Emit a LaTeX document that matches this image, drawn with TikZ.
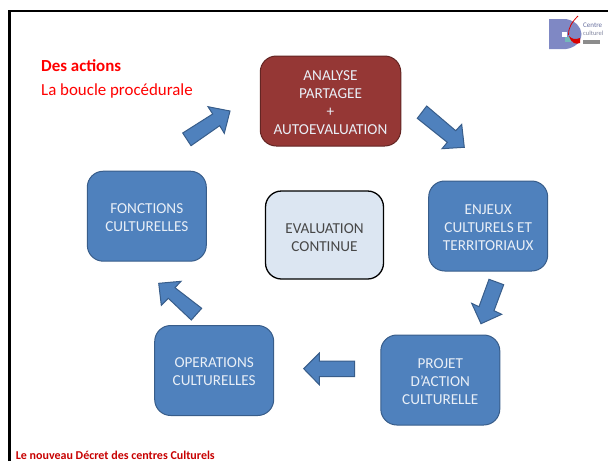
\documentclass[tikz,border=0pt]{standalone}
\usepackage{fontspec}
\setmainfont{Carlito}
\definecolor{bluefill}{HTML}{4F81BD}
\definecolor{bluedraw}{HTML}{385D8A}
\definecolor{redfill}{HTML}{953735}
\definecolor{reddraw}{HTML}{632523}
\definecolor{palefill}{HTML}{DCE6F2}
\definecolor{paletext}{HTML}{E9EFF7}
\definecolor{logoblue}{HTML}{7F88C4}
\newcommand{\toppad}{\rule{0pt}{13pt}}
\newcommand{\evalpad}{\rule{0pt}{15pt}}
\tikzset{
  x=1pt,y=-1pt,
  boxbase/.style={rectangle,rounded corners=16pt,minimum width=119pt,minimum height=90pt,
    inner sep=0pt,align=center,font=\fontsize{15.2}{18}\selectfont,line width=1pt},
  bluebox/.style={boxbase,fill=bluefill,draw=bluedraw,text=paletext},
  redbox/.style={boxbase,minimum width=140.5pt,fill=redfill,draw=reddraw,text=paletext},
  palebox/.style={boxbase,minimum width=118pt,minimum height=88pt,fill=palefill,draw=black,line width=1.3pt,text=black!72},
  blockarrow/.style={fill=bluefill,draw=bluedraw,line width=1pt,line join=miter},
  redlabel/.style={anchor=base west,inner sep=0pt,text=red,font=\fontsize{16.9}{18}\selectfont},
}
\begin{document}
\begin{tikzpicture}
\useasboundingbox (0,0) rectangle (608,461);
\clip (0,0) rectangle (608,461);
% slide frame
\draw[line width=2.4pt] (9.5,461) -- (9.5,11) -- (608,11);
% titles
\node[redlabel,font=\fontsize{16.9}{18}\selectfont\bfseries] (title) at (41,71) {Des actions};
\node[redlabel] (subtitle) at (41,95) {La boucle procédurale};
% boxes
\node[redbox] (analyse) at (330.5,101) {\toppad ANALYSE\\PARTAGEE\\+\\AUTOEVALUATION};
\node[bluebox] (enjeux) at (488.2,226) {\toppad ENJEUX\\CULTURELS ET\\TERRITORIAUX};
\node[bluebox] (projet) at (440.3,380) {\toppad PROJET\\D’ACTION\\CULTURELLE};
\node[bluebox] (oper) at (214.2,370.5) {\toppad OPERATIONS\\CULTURELLES};
\node[bluebox] (fonct) at (146.8,216.2) {\toppad FONCTIONS\\CULTURELLES};
\node[palebox] (eval) at (324.5,235) {\evalpad EVALUATION\\CONTINUE};
% block arrows
\draw[blockarrow] (417.3,118.3) -- (426.7,106) -- (455.7,130.7) -- (461.7,124.3) -- (464.3,147.3) -- (442,148.7) -- (447.3,142.3) -- cycle;
\draw[blockarrow] (489,279.3) -- (503.7,284.7) -- (494,310.7) -- (501.7,314.3) -- (481,323.7) -- (471.7,303.3) -- (479,306.7) -- cycle;
\draw[blockarrow] (354.7,361) -- (354.7,376.7) -- (319.3,376.7) -- (319.3,384.7) -- (303.7,368.7) -- (319.3,353) -- (319.3,361) -- cycle;
\draw[blockarrow] (201.7,308.3) -- (191.3,320) -- (168.3,298.3) -- (161.3,305.3) -- (158.7,283.3) -- (181,281.3) -- (175,287.7) -- cycle;
\draw[blockarrow] (191,145.7) -- (182.7,133) -- (212.7,114) -- (208,106.7) -- (230,111) -- (224.3,133.3) -- (219.7,125.7) -- cycle;
% logo
\fill[logoblue] (549,19) -- (566,19) .. controls (576,21) and (581,27) .. (581.5,34) .. controls (581,43) and (574,48) .. (566,49) -- (549,49) -- cycle;
\fill[white] (562,32) rectangle (567,37);
\fill[teal!55] (565,37) rectangle (571,42);
\draw[red!85!black,line width=.8pt] (578,16) .. controls (572,22) and (568,28) .. (568.5,35);
\fill[red!85!black] (569,36) .. controls (571,43) and (576,45) .. (580,43) -- (580,38) .. controls (575,40) and (572,39) .. (569,36) -- cycle;
\node[anchor=base west,inner sep=0pt,text=logoblue!80!black,font=\fontsize{7}{8}\selectfont] (logotext) at (583,27) {Centre};
\node[anchor=base west,inner sep=0pt,text=logoblue!60!black!70,font=\fontsize{6.5}{8}\selectfont] (logotexttwo) at (583,35) {culturel};
\fill[black!45] (583,40) rectangle (600,43.5);
% footer
\node[anchor=base west,inner sep=0pt,text=red!78!black,font=\fontsize{12}{14}\selectfont\bfseries] (footer) at (15.7,459.6) {Le nouveau Décret des centres Culturels};
\end{tikzpicture}
\end{document}
